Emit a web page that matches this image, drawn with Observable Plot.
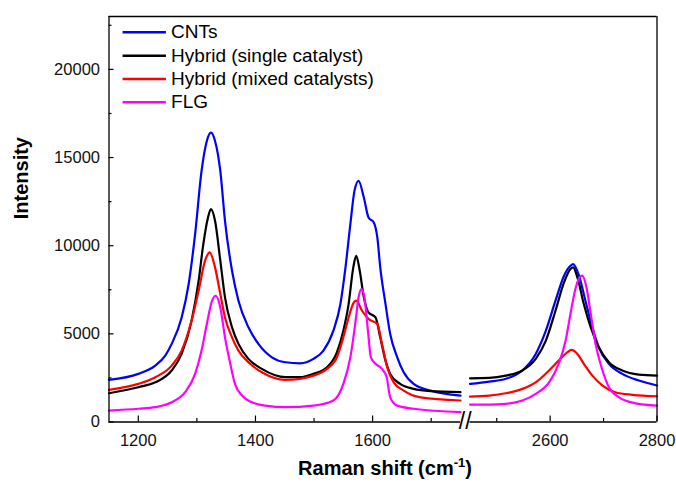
<!DOCTYPE html>
<html>
<head>
<meta charset="utf-8">
<script src="https://cdn.jsdelivr.net/npm/d3@7"></script>
<script src="https://cdn.jsdelivr.net/npm/@observablehq/plot@0.6"></script>
<style>
  html, body { margin: 0; padding: 0; background: #fff; }
  #chart { width: 676px; height: 484px; }
</style>
</head>
<body>
<div id="chart"></div>
<script>
// ---- Data ----
const seriesNames = ["CNTs", "Hybrid (single catalyst)", "Hybrid (mixed catalysts)", "FLG"];
const seriesColors = ["#0000ff", "#000000", "#ff0000", "#ff00ff"];

const cntsShift = [1150,1200,1229,1246,1257,1274,1286,1297,1308,1317,1324,1331,1340,1348,1360,1371,1388,1405,1428,1451,1476,1499,1516,1533,1545,1553,1562,1569,1576,1585,1593,1602,1608,1613,1622,1630,1642,1653,1670,1699,1750,
  2450,2486,2517,2548,2573,2592,2610,2626,2638,2643,2654,2666,2679,2691,2710,2735,2766,2800];
const cntsIntensity = [2390,2730,3200,3770,4430,5930,7830,10660,14240,15940,16410,15940,14240,11410,8580,6880,5370,4430,3670,3390,3330,3580,4050,5180,6690,8580,11220,13110,13680,12730,11600,11320,10470,8770,6690,4990,3670,2820,2160,1780,1500,
  2160,2290,2450,2920,3860,5180,6880,8300,8860,8960,8300,6880,5370,4240,3300,2730,2350,2070];

const singleShift = [1150,1200,1229,1257,1274,1291,1303,1311,1319,1324,1331,1340,1348,1360,1371,1388,1411,1451,1476,1499,1522,1539,1550,1559,1567,1572,1578,1585,1593,1605,1613,1622,1630,1647,1670,1699,1750,
  2450,2486,2517,2548,2573,2592,2610,2626,2638,2643,2651,2663,2676,2691,2710,2735,2766,2800];
const singleIntensity = [1630,1970,2250,2920,3860,5750,8010,10090,11600,12070,11410,9150,7070,5370,4430,3580,3010,2540,2540,2730,3100,3950,5180,6690,8770,9430,8580,7070,6220,5930,4800,3480,2730,2160,1880,1750,1690,
  2480,2500,2630,2920,3580,4620,6310,7920,8680,8770,8200,6690,5370,4240,3390,2920,2690,2630];

const mixedShift = [1150,1200,1229,1257,1274,1291,1303,1314,1322,1331,1340,1348,1360,1371,1388,1411,1451,1476,1499,1522,1539,1550,1559,1568,1572,1582,1593,1608,1616,1625,1636,1653,1682,1750,
  2450,2486,2517,2548,2573,2598,2616,2632,2640,2651,2663,2679,2698,2722,2754,2800];
const mixedIntensity = [1820,2160,2540,3200,4050,5750,7450,9150,9620,8770,7260,5930,4800,4050,3390,2820,2390,2450,2630,3010,3670,4800,5930,6780,6880,6310,5840,5560,4430,3100,2250,1780,1400,1220,
  1440,1500,1630,1880,2250,2920,3480,3950,4090,3860,3300,2630,2070,1690,1540,1460];

const flgShift = [1150,1200,1229,1257,1280,1297,1308,1317,1326,1332,1340,1348,1357,1365,1377,1394,1417,1451,1499,1533,1550,1562,1571,1576,1581,1586,1592,1597,1605,1616,1624,1630,1642,1670,1750,
  2450,2486,2517,2548,2573,2598,2616,2629,2638,2648,2655,2660,2668,2676,2685,2698,2710,2729,2760,2800];
const flgIntensity = [650,750,840,1120,1690,2730,4050,5560,6880,7160,6500,4800,3300,2160,1500,1120,930,840,930,1220,2160,3670,5750,7070,7540,7070,5180,3670,3300,3010,2540,1400,930,750,560,
  990,990,1030,1220,1600,2250,3300,4620,6130,7630,8200,8300,7630,6130,4430,2920,1970,1400,1060,930];

// Axis: broken x axis (two ranges)
const xDomain = [1150, 1750, 2450, 2800];
const xMajorTicks = [1200, 1400, 1600, 2600, 2800];
const xMinorTicks = [1300, 1500, 1700, 2500, 2700];
const yDomain = [0, 23000];
const yMajorTicks = [0, 5000, 10000, 15000, 20000];
const yMinorTicks = [2500, 7500, 12500, 17500, 22500];
const xTitle = "Raman shift (cm-1)";
const yTitle = "Intensity";

// ---- Build the table ----
const shifts = [cntsShift, singleShift, mixedShift, flgShift];
const intensities = [cntsIntensity, singleIntensity, mixedIntensity, flgIntensity];
const spectra = [];
seriesNames.forEach((name, i) => {
  shifts[i].forEach((x, j) => {
    spectra.push({series: name, panel: x > xDomain[1] ? "high" : "low", shift: x, intensity: intensities[i][j]});
  });
});
const axisSegments = [{from: xDomain[0], to: xDomain[1]}, {from: xDomain[2], to: xDomain[3]}];
const breakMid = (xDomain[1] + xDomain[2]) / 2;

// legend rows in data space (upper-left inside the frame)
const legendTop = 22100, legendStep = 1322;
const legendRows = seriesNames.map((s, i) => ({s, y: legendTop - i * legendStep}));

const W = 676, H = 484;
const mL = 108.5, mR = 19.5, mT = 16, mB = 62.5;
const font = "'Liberation Sans', Arial, Helvetica, sans-serif";

const chart = Plot.plot({
  width: W, height: H,
  marginLeft: mL, marginRight: mR, marginTop: mT, marginBottom: mB,
  style: {fontFamily: font, background: "#fff", color: "#000", overflow: "visible"},
  x: {type: "linear", domain: xDomain, range: [mL, 460, 469.5, W - mR]},
  y: {type: "linear", domain: yDomain, range: [H - mB, mT]},
  color: {domain: seriesNames, range: seriesColors},
  marks: [
    // spectra
    Plot.line(spectra, {x: "shift", y: "intensity", z: d => d.series + "|" + d.panel,
      stroke: "series", strokeWidth: 2.2, curve: "monotone-x"}),
    // frame: top, left, right, and broken bottom axis line
    Plot.ruleY([yDomain[1]], {x1: () => xDomain[0], x2: () => xDomain[3], stroke: "#000", strokeWidth: 1.3}),
    Plot.ruleX([xDomain[0], xDomain[3]], {y1: () => yDomain[0], y2: () => yDomain[1], stroke: "#000", strokeWidth: 1.3}),
    Plot.ruleY(axisSegments, {y: () => 0, x1: "from", x2: "to", stroke: "#000", strokeWidth: 1.3}),
    Plot.text(["//"], {x: () => breakMid, y: () => 0, text: d => d, fontSize: 23, fill: "#000"}),
    // inward ticks
    Plot.axisX(xMajorTicks, {anchor: "bottom", tickSize: -6, fill: "none", label: null, strokeWidth: 1.2}),
    Plot.axisX(xMinorTicks, {anchor: "bottom", tickSize: -3.5, fill: "none", label: null, strokeWidth: 1.2}),
    Plot.axisY(yMajorTicks, {anchor: "left", tickSize: -5, fill: "none", label: null, strokeWidth: 1.2}),
    Plot.axisY(yMinorTicks, {anchor: "left", tickSize: -3, fill: "none", label: null, strokeWidth: 1.2}),
    // tick labels
    Plot.axisX(xMajorTicks, {anchor: "bottom", tickSize: 0, tickPadding: 12, fontSize: 16.5, label: null, tickFormat: d => String(d), fill: "#111"}),
    Plot.axisY(yMajorTicks, {anchor: "left", tickSize: 0, tickPadding: 9, fontSize: 16.5, label: null, tickFormat: d => String(d), fill: "#111"}),
    // axis titles
    Plot.text([yTitle], {frameAnchor: "left", dx: -87, rotate: -90, text: d => d, fontSize: 20, fontWeight: "bold", fill: "#000"}),
    Plot.text([xTitle], {frameAnchor: "bottom", dx: 2, dy: 53, text: d => d, fontSize: 20, fontWeight: "bold", fill: "#000"}),
    // legend
    Plot.ruleY(legendRows, {y: "y", x1: () => 1174, x2: () => 1248, stroke: "s", strokeWidth: 2.5}),
    Plot.text(legendRows, {y: "y", x: () => 1256, text: "s", textAnchor: "start", fontSize: 19, fill: "#000"})
  ]
});

// superscript "-1" in the x title
for (const t of chart.querySelectorAll("text")) {
  if (t.textContent === xTitle) {
    t.textContent = "";
    const ns = "http://www.w3.org/2000/svg";
    t.appendChild(document.createTextNode("Raman shift (cm"));
    const sup = document.createElementNS(ns, "tspan");
    sup.setAttribute("font-size", "13");
    sup.setAttribute("dy", "-8");
    sup.textContent = "-1";
    t.appendChild(sup);
    const close = document.createElementNS(ns, "tspan");
    close.setAttribute("dy", "8");
    close.textContent = ")";
    t.appendChild(close);
  }
}

document.getElementById("chart").appendChild(chart);
</script>
</body>
</html>
